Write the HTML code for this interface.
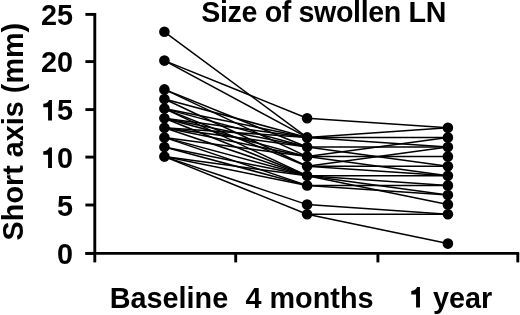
<!DOCTYPE html>
<html><head><meta charset="utf-8"><style>
html,body{margin:0;padding:0;background:#fff;}
svg{display:block;will-change:transform;}
text{font-family:"Liberation Sans",sans-serif;font-weight:bold;font-size:28.8px;fill:#000;}
</style></head><body>
<svg width="520" height="315" viewBox="0 0 520 315">
<rect width="520" height="315" fill="#fff"/>
<g stroke="#000" stroke-width="1.5" stroke-linecap="butt">
<line x1="164.4" y1="31.80" x2="307.1" y2="137.40"/>
<line x1="164.4" y1="60.60" x2="307.1" y2="118.20"/>
<line x1="164.4" y1="60.60" x2="307.1" y2="137.40"/>
<line x1="164.4" y1="89.40" x2="307.1" y2="147.00"/>
<line x1="164.4" y1="89.40" x2="307.1" y2="156.60"/>
<line x1="164.4" y1="99.00" x2="307.1" y2="137.40"/>
<line x1="164.4" y1="99.00" x2="307.1" y2="166.20"/>
<line x1="164.4" y1="108.60" x2="307.1" y2="137.40"/>
<line x1="164.4" y1="108.60" x2="307.1" y2="147.00"/>
<line x1="164.4" y1="108.60" x2="307.1" y2="166.20"/>
<line x1="164.4" y1="108.60" x2="307.1" y2="175.80"/>
<line x1="164.4" y1="118.20" x2="307.1" y2="137.40"/>
<line x1="164.4" y1="118.20" x2="307.1" y2="147.00"/>
<line x1="164.4" y1="118.20" x2="307.1" y2="156.60"/>
<line x1="164.4" y1="118.20" x2="307.1" y2="175.80"/>
<line x1="164.4" y1="127.80" x2="307.1" y2="137.40"/>
<line x1="164.4" y1="127.80" x2="307.1" y2="147.00"/>
<line x1="164.4" y1="127.80" x2="307.1" y2="156.60"/>
<line x1="164.4" y1="127.80" x2="307.1" y2="175.80"/>
<line x1="164.4" y1="137.40" x2="307.1" y2="156.60"/>
<line x1="164.4" y1="137.40" x2="307.1" y2="175.80"/>
<line x1="164.4" y1="137.40" x2="307.1" y2="185.40"/>
<line x1="164.4" y1="147.00" x2="307.1" y2="175.80"/>
<line x1="164.4" y1="147.00" x2="307.1" y2="185.40"/>
<line x1="164.4" y1="156.60" x2="307.1" y2="175.80"/>
<line x1="164.4" y1="156.60" x2="307.1" y2="185.40"/>
<line x1="164.4" y1="156.60" x2="307.1" y2="204.60"/>
<line x1="164.4" y1="156.60" x2="307.1" y2="214.20"/>
<line x1="307.1" y1="118.20" x2="447.9" y2="127.80"/>
<line x1="307.1" y1="137.40" x2="447.9" y2="127.80"/>
<line x1="307.1" y1="137.40" x2="447.9" y2="137.40"/>
<line x1="307.1" y1="137.40" x2="447.9" y2="147.00"/>
<line x1="307.1" y1="147.00" x2="447.9" y2="147.00"/>
<line x1="307.1" y1="147.00" x2="447.9" y2="166.20"/>
<line x1="307.1" y1="156.60" x2="447.9" y2="137.40"/>
<line x1="307.1" y1="156.60" x2="447.9" y2="156.60"/>
<line x1="307.1" y1="156.60" x2="447.9" y2="175.80"/>
<line x1="307.1" y1="166.20" x2="447.9" y2="147.00"/>
<line x1="307.1" y1="166.20" x2="447.9" y2="166.20"/>
<line x1="307.1" y1="166.20" x2="447.9" y2="175.80"/>
<line x1="307.1" y1="175.80" x2="447.9" y2="175.80"/>
<line x1="307.1" y1="175.80" x2="447.9" y2="185.40"/>
<line x1="307.1" y1="175.80" x2="447.9" y2="195.00"/>
<line x1="307.1" y1="175.80" x2="447.9" y2="204.60"/>
<line x1="307.1" y1="185.40" x2="447.9" y2="185.40"/>
<line x1="307.1" y1="185.40" x2="447.9" y2="195.00"/>
<line x1="307.1" y1="204.60" x2="447.9" y2="214.20"/>
<line x1="307.1" y1="214.20" x2="447.9" y2="214.20"/>
<line x1="307.1" y1="214.20" x2="447.9" y2="243.60"/>
</g>
<g fill="#000">
<circle cx="164.4" cy="156.60" r="5.3"/>
<circle cx="164.4" cy="147.00" r="5.3"/>
<circle cx="164.4" cy="137.40" r="5.3"/>
<circle cx="164.4" cy="127.80" r="5.3"/>
<circle cx="164.4" cy="118.20" r="5.3"/>
<circle cx="164.4" cy="108.60" r="5.3"/>
<circle cx="164.4" cy="99.00" r="5.3"/>
<circle cx="164.4" cy="89.40" r="5.3"/>
<circle cx="164.4" cy="60.60" r="5.3"/>
<circle cx="164.4" cy="31.80" r="5.3"/>
<circle cx="307.1" cy="214.20" r="5.3"/>
<circle cx="307.1" cy="204.60" r="5.3"/>
<circle cx="307.1" cy="185.40" r="5.3"/>
<circle cx="307.1" cy="175.80" r="5.3"/>
<circle cx="307.1" cy="166.20" r="5.3"/>
<circle cx="307.1" cy="156.60" r="5.3"/>
<circle cx="307.1" cy="147.00" r="5.3"/>
<circle cx="307.1" cy="137.40" r="5.3"/>
<circle cx="307.1" cy="118.20" r="5.3"/>
<circle cx="447.9" cy="243.60" r="5.3"/>
<circle cx="447.9" cy="214.20" r="5.3"/>
<circle cx="447.9" cy="204.60" r="5.3"/>
<circle cx="447.9" cy="195.00" r="5.3"/>
<circle cx="447.9" cy="185.40" r="5.3"/>
<circle cx="447.9" cy="175.80" r="5.3"/>
<circle cx="447.9" cy="166.20" r="5.3"/>
<circle cx="447.9" cy="156.60" r="5.3"/>
<circle cx="447.9" cy="147.00" r="5.3"/>
<circle cx="447.9" cy="137.40" r="5.3"/>
<circle cx="447.9" cy="127.80" r="5.3"/>
</g>
<g stroke="#000" stroke-width="2.9" stroke-linecap="butt">
<line x1="94.8" y1="13.0" x2="94.8" y2="262.4"/>
<line x1="85.4" y1="253.4" x2="519.2" y2="253.4"/>
<line x1="85.4" y1="14.4" x2="94.8" y2="14.4"/>
<line x1="85.4" y1="61.6" x2="94.8" y2="61.6"/>
<line x1="85.4" y1="109.6" x2="94.8" y2="109.6"/>
<line x1="85.4" y1="157.1" x2="94.8" y2="157.1"/>
<line x1="85.4" y1="205.0" x2="94.8" y2="205.0"/>
<line x1="85.4" y1="253.4" x2="94.8" y2="253.4"/>
<line x1="235.7" y1="253.4" x2="235.7" y2="262.4"/>
<line x1="377.9" y1="253.4" x2="377.9" y2="262.4"/>
<line x1="517.8" y1="253.4" x2="517.8" y2="262.4"/>
</g>
<g>
<text x="73" y="25.2" text-anchor="end">25</text>
<text x="73" y="72.4" text-anchor="end">20</text>
<text x="73" y="120.4" text-anchor="end">5</text>
<text x="73" y="167.9" text-anchor="end">0</text>
<text x="73" y="215.8" text-anchor="end">5</text>
<text x="73" y="264.2" text-anchor="end">0</text>
<text x="424.98" y="307.5" xml:space="preserve"> year</text>
<path transform="translate(40.97,120.4)" d="M 11.0 0 L 11.0 -20.5 L 8.1 -20.5 C 7.5 -18.4 5.2 -16.8 2.3 -16.6 L 2.3 -13.1 L 7.1 -13.1 L 7.1 0 Z"/>
<path transform="translate(40.97,167.9)" d="M 11.0 0 L 11.0 -20.5 L 8.1 -20.5 C 7.5 -18.4 5.2 -16.8 2.3 -16.6 L 2.3 -13.1 L 7.1 -13.1 L 7.1 0 Z"/>
<path transform="translate(408.97,307.5)" d="M 11.0 0 L 11.0 -20.5 L 8.1 -20.5 C 7.5 -18.4 5.2 -16.8 2.3 -16.6 L 2.3 -13.1 L 7.1 -13.1 L 7.1 0 Z"/>
<text x="323.8" y="22" text-anchor="middle" style="font-size:28.6px" textLength="245" lengthAdjust="spacing">Size of swollen LN</text>
<text x="169" y="307.5" text-anchor="middle">Baseline</text>
<text x="309.5" y="307.5" text-anchor="middle">4 months</text>
<text transform="translate(22.7,131.6) rotate(-90)" text-anchor="middle">Short axis (mm)</text>
</g>
</svg>
</body></html>
